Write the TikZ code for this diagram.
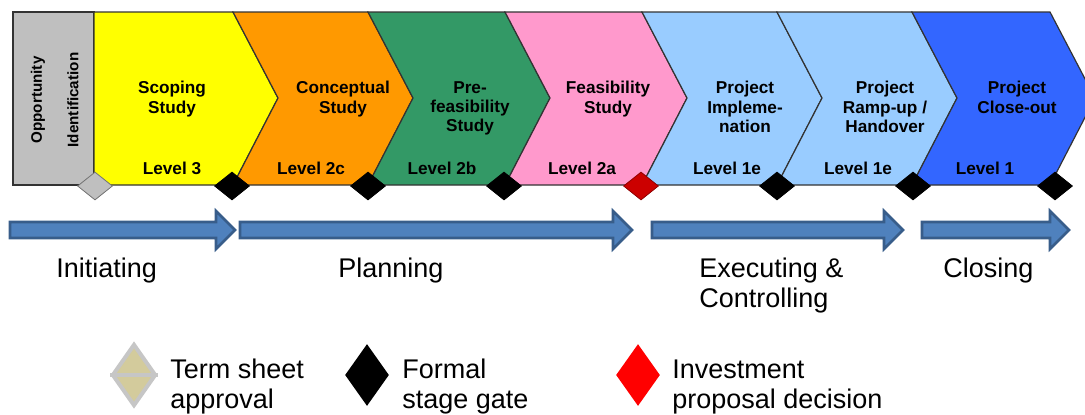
\documentclass[tikz,border=0pt]{standalone}
\usepackage{fontspec}
\setmainfont{Liberation Sans}
\usetikzlibrary{shapes.geometric}

\definecolor{oppgray}{HTML}{BFBFBF}
\definecolor{scopeyellow}{HTML}{FFFF00}
\definecolor{conceptorange}{HTML}{FF9900}
\definecolor{prefeasgreen}{HTML}{339966}
\definecolor{feaspink}{HTML}{FF99CC}
\definecolor{projlightblue}{HTML}{99CCFF}
\definecolor{closeblue}{HTML}{3366FF}
\definecolor{flowblue}{HTML}{4F81BD}
\definecolor{flowedge}{HTML}{385D8A}
\definecolor{gatered}{HTML}{CC0000}
\definecolor{termkhaki}{HTML}{D3CB9C}

\begin{document}
\begin{tikzpicture}[x=0.5pt, y=-0.5pt,
    phase/.style={draw=black!80, line width=0.6pt},
    phasetitle/.style={font=\fontsize{8.6}{9.6}\selectfont\bfseries, align=center, anchor=north, inner sep=0pt},
    levellabel/.style={font=\fontsize{8.6}{10}\selectfont\bfseries, anchor=base, inner sep=0pt},
    gate/.style={diamond, draw=black, fill=black, inner sep=0pt, minimum width=17.5pt, minimum height=14pt},
    keygate/.style={diamond, inner sep=0pt, minimum width=22pt, minimum height=31pt},
    flow/.style={draw=flowedge, line width=1.3pt, fill=flowblue},
    groupname/.style={font=\fontsize{13.5}{15}\selectfont, align=left, anchor=base west, inner sep=0pt},
    keytext/.style={font=\fontsize{13.5}{15}\selectfont, align=left, anchor=base west, inner sep=0pt}]
    \useasboundingbox (0,0) rectangle (1085,414);
    \clip (0,0) rectangle (1085,414);

    % phase band
    \draw[phase, fill=oppgray] (13,12) rectangle (94,185);
    \node[font=\fontsize{7.6}{8}\selectfont\bfseries, rotate=90, inner sep=0pt] (opp1) at (38,100) {Opportunity};
    \node[font=\fontsize{7.6}{8}\selectfont\bfseries, rotate=90, inner sep=0pt] (opp2) at (73,100) {Identification};

    \draw[phase, fill=scopeyellow] (94,12) -- (233,12) -- (278,98) -- (233,185) -- (94,185) -- cycle;
    \draw[phase, fill=conceptorange] (233,12) -- (368,12) -- (413,98) -- (368,185) -- (233,185) -- (278,98) -- cycle;
    \draw[phase, fill=prefeasgreen] (368,12) -- (505,12) -- (550,98) -- (505,185) -- (368,185) -- (413,98) -- cycle;
    \draw[phase, fill=feaspink] (505,12) -- (642,12) -- (687,98) -- (642,185) -- (505,185) -- (550,98) -- cycle;
    \draw[phase, fill=projlightblue] (642,12) -- (777,12) -- (822,98) -- (777,185) -- (642,185) -- (687,98) -- cycle;
    \draw[phase, fill=projlightblue] (777,12) -- (912,12) -- (957,98) -- (912,185) -- (777,185) -- (822,98) -- cycle;
    \draw[phase, fill=closeblue] (912,12) -- (1050,12) -- (1095,98) -- (1050,185) -- (912,185) -- (957,98) -- cycle;

    \node[phasetitle] (scoping) at (172,81) {Scoping\\Study};
    \node[phasetitle] (conceptual) at (343,81) {Conceptual\\Study};
    \node[phasetitle] (prefeas) at (470,81) {Pre-\\feasibility\\Study};
    \node[phasetitle] (feas) at (608,81) {Feasibility\\Study};
    \node[phasetitle] (implement) at (745,81) {Project\\Impleme-\\nation};
    \node[phasetitle] (rampup) at (885,81) {Project\\Ramp-up /\\Handover};
    \node[phasetitle] (closeout) at (1017,81) {Project\\Close-out};

    \node[levellabel] (lvl3) at (172,174) {Level 3};
    \node[levellabel] (lvl2c) at (311,174) {Level 2c};
    \node[levellabel] (lvl2b) at (442,174) {Level 2b};
    \node[levellabel] (lvl2a) at (582,174) {Level 2a};
    \node[levellabel] (lvl1e) at (727,174) {Level 1e};
    \node[levellabel] (lvl1ee) at (858,174) {Level 1e};
    \node[levellabel] (lvl1) at (985,174) {Level 1};

    % gates along the bottom edge
    \node[gate, draw=gray!90!black, fill=oppgray] (g0) at (95,186) {};
    \node[gate] (g1) at (232,186) {};
    \node[gate] (g2) at (368,186) {};
    \node[gate] (g3) at (504,186) {};
    \node[gate, fill=gatered, draw=gatered!70!black] (g4) at (641,186) {};
    \node[gate] (g5) at (777,186) {};
    \node[gate] (g6) at (913,186) {};
    \node[gate] (g7) at (1055,186) {};

    % process groups
    \draw[flow] (10,222) -- (216,222) -- (216,211) -- (235,230) -- (216,249) -- (216,238) -- (10,238) -- cycle;
    \draw[flow] (240,222) -- (613,222) -- (613,211) -- (632,230) -- (613,249) -- (613,238) -- (240,238) -- cycle;
    \draw[flow] (652,222) -- (884,222) -- (884,211) -- (903,230) -- (884,249) -- (884,238) -- (652,238) -- cycle;
    \draw[flow] (922,222) -- (1050,222) -- (1050,211) -- (1069,230) -- (1050,249) -- (1050,238) -- (922,238) -- cycle;

    \node[groupname] (initiating) at (56,277) {Initiating};
    \node[groupname] (planning) at (338,277) {Planning};
    \node[groupname] (executing) at (699,307) {Executing \&\\Controlling};
    \node[groupname] (closing) at (943,277) {Closing};

    % key
    \node[keygate, fill=termkhaki, draw=gray!45, line width=2pt] (keyterm) at (134,375) {};
    \draw[gray!45, line width=2pt] (keyterm.west) -- (keyterm.east);
    \node[keygate, fill=black] (keyformal) at (367,375) {};
    \node[keygate, fill=red] (keyinvest) at (638,375) {};
    \node[keytext] (termtext) at (170,408) {Term sheet\\approval};
    \node[keytext] (formaltext) at (402,408) {Formal\\stage gate};
    \node[keytext] (investtext) at (672,408) {Investment\\proposal decision};
\end{tikzpicture}
\end{document}
